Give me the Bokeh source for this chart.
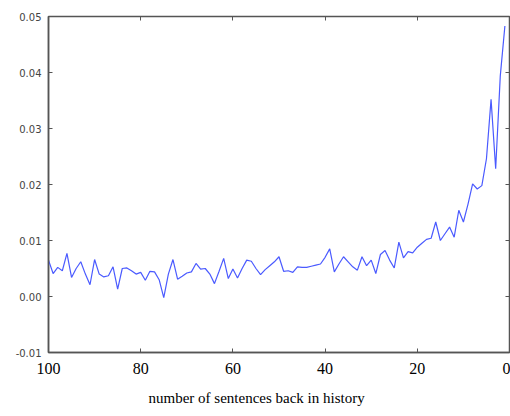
from bokeh.plotting import figure
from bokeh.models import Range1d, LinearAxis, FixedTicker, PrintfTickFormatter, CustomJSTickFormatter, Title
from bokeh.embed import file_html
from bokeh.resources import INLINE

# sentences back in history (100 .. 1)
sentences_back = list(range(100, 0, -1))
# weight per position
weights = [
    0.0065, 0.0041, 0.0052, 0.0046, 0.0077, 0.0034, 0.0050, 0.0062, 0.0040, 0.0021,
    0.0066, 0.0040, 0.0035, 0.0037, 0.0053, 0.0013, 0.0050, 0.0051, 0.0046, 0.0040,
    0.0043, 0.0029, 0.0045, 0.0044, 0.0030, -0.0002, 0.0040, 0.0066, 0.0031, 0.0036,
    0.0042, 0.0044, 0.0059, 0.0049, 0.0050, 0.0040, 0.0023, 0.0045, 0.0068, 0.0032,
    0.0049, 0.0033, 0.0050, 0.0065, 0.0063, 0.0050, 0.0039, 0.0048, 0.0055, 0.0062,
    0.0071, 0.0045, 0.0046, 0.0043, 0.0053, 0.0052, 0.0052, 0.0054, 0.0056, 0.0058,
    0.0070, 0.0085, 0.0044, 0.0058, 0.0071, 0.0062, 0.0053, 0.0047, 0.0071, 0.0055,
    0.0065, 0.0041, 0.0075, 0.0082, 0.0065, 0.0051, 0.0097, 0.0069, 0.0080, 0.0078,
    0.0088, 0.0095, 0.0102, 0.0104, 0.0133, 0.0100, 0.0112, 0.0124, 0.0106, 0.0154,
    0.0133, 0.0165, 0.0201, 0.0192, 0.0198, 0.0246, 0.0352, 0.0228, 0.0394, 0.0483,
]
x_ticks = [100, 80, 60, 40, 20, 0]
y_ticks = [-0.01, 0.0, 0.01, 0.02, 0.03, 0.04, 0.05]
x_title = "number of sentences back in history"

p = figure(width=510, height=416, output_backend="svg", toolbar_location=None,
           x_range=Range1d(100, 0), y_range=Range1d(-0.01, 0.05),
           min_border_left=48, min_border_right=1, min_border_top=16, min_border_bottom=0)
p.grid.visible = False
p.outline_line_color = "#555555"
p.outline_line_width = 1.5
p.background_fill_color = "white"
p.border_fill_color = "white"

p.line(sentences_back, weights, line_color="#4a5aff", line_width=1.2)

ax = p.xaxis[0]
ax.ticker = FixedTicker(ticks=x_ticks)
ax.major_tick_in = 4
ax.major_tick_out = 0
ax.minor_tick_line_color = None
ax.axis_line_color = "#555555"
ax.axis_line_width = 1.5
ax.major_tick_line_color = "#555555"
ax.major_label_text_font = "Liberation Serif"
ax.major_label_text_font_size = "16px"
ax.major_label_text_color = "black"
ax.major_label_standoff = 10

ay = p.yaxis[0]
ay.ticker = FixedTicker(ticks=y_ticks)
ay.formatter = PrintfTickFormatter(format="%.2f")
ay.major_tick_in = 4
ay.major_tick_out = 0
ay.minor_tick_line_color = None
ay.axis_line_color = "#555555"
ay.axis_line_width = 1.5
ay.major_tick_line_color = "#555555"
ay.major_label_text_font = "DejaVu Sans"
ay.major_label_text_font_size = "10px"
ay.major_label_text_color = "#444444"
ay.major_label_standoff = 7

blank = CustomJSTickFormatter(code="return ''")
top = LinearAxis(ticker=FixedTicker(ticks=x_ticks), formatter=blank, major_tick_in=4, major_tick_out=0,
                 minor_tick_line_color=None, major_label_standoff=0,
                 axis_line_color=None, major_tick_line_color="#555555")
p.add_layout(top, "above")
right = LinearAxis(ticker=FixedTicker(ticks=y_ticks), formatter=blank, major_tick_in=4, major_tick_out=0,
                   minor_tick_line_color=None, major_label_standoff=0,
                   axis_line_color=None, major_tick_line_color="#555555")
p.add_layout(right, "right")

t = Title(text=x_title, align="left", offset=100, standoff=22,
          text_font="Liberation Serif", text_font_size="15px",
          text_font_style="normal", text_color="black")
p.add_layout(t, "below")

open("out.html", "w").write(file_html(p, INLINE))
